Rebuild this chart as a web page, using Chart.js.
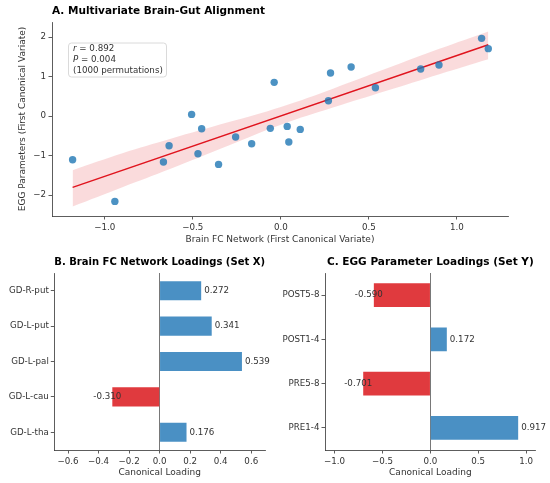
<!DOCTYPE html>
<html>
<head>
<meta charset="utf-8">
<script src="https://cdn.jsdelivr.net/npm/chart.js@4"></script>
<style>
  body { margin: 0; background: #fff; }
  .panel { position: absolute; }
</style>
</head>
<body>
<div class="panel" style="left:0;top:0"><canvas id="alignChart" width="550" height="250"></canvas></div>
<div class="panel" style="left:0;top:250px"><canvas id="brainChart" width="275" height="233"></canvas></div>
<div class="panel" style="left:275px;top:250px"><canvas id="eggChart" width="275" height="233"></canvas></div>
<script>
  // panel A: first canonical variates
  const brainFC  = [-1.183,-0.943,-0.667,-0.635,-0.507,-0.471,-0.450,-0.354,-0.257,-0.166,-0.060,-0.038,0.036,0.045,0.110,0.270,0.282,0.399,0.537,0.794,0.898,1.140,1.178];
  const eggParam = [-1.105,-2.160,-1.165,-0.751,0.042,-0.954,-0.321,-1.224,-0.532,-0.700,-0.312,0.852,-0.262,-0.658,-0.338,0.388,1.089,1.240,0.717,1.190,1.290,1.966,1.705];
  const fitX = [-1.183, 1.178];
  const fitY = [-1.806, 1.806];
  const bandX     = [-1.183,-0.9,-0.63,-0.3,0,0.3,0.6,0.9,1.178];
  const bandUpper = [-1.37,-0.94,-0.58,-0.16,0.23,0.70,1.20,1.70,2.14];
  const bandLower = [-2.29,-1.80,-1.34,-0.75,-0.22,0.22,0.64,1.06,1.44];

  // panel B / C: loadings
  const brainRegions  = ['GD-R-put','GD-L-put','GD-L-pal','GD-L-cau','GD-L-tha'];
  const brainLoadings = [0.272, 0.341, 0.539, -0.310, 0.176];
  const eggParams     = ['POST5-8','POST1-4','PRE5-8','PRE1-4'];
  const eggLoadings   = [-0.590, 0.172, -0.701, 0.917];

  const BLUE = '#4a90c4', RED = '#e03a3e', INK = '#333';
  Chart.defaults.font.family = "'DejaVu Sans', sans-serif";
  Chart.defaults.color = INK;

  const fmt = v => (Math.abs(v) < 1e-9 ? 0 : v).toFixed(1).replace('-', '\u2212');
  const toXY = (xs, ys) => xs.map((x, i) => ({ x, y: ys[i] }));

  function axis(extra) {
    return Object.assign({
      grid: { drawOnChartArea: false, tickLength: 3.5, tickColor: INK, lineWidth: 0.8 },
      border: { display: true, color: INK, width: 0.8 },
      ticks: { color: INK, font: { size: 8.7 }, padding: 2 },
    }, extra);
  }
  const fixW = w => s => { s.width = w; };
  const fixH = h => s => { s.height = h; };

  const statsBox = {
    id: 'statsBox',
    afterDraw(chart) {
      const { ctx, chartArea: ca } = chart;
      const x = ca.left + 16.5, y = ca.top + 21, w = 98, h = 34;
      ctx.save();
      ctx.beginPath();
      ctx.roundRect(x, y, w, h, 3);
      ctx.fillStyle = 'rgba(255,255,255,0.85)';
      ctx.fill();
      ctx.strokeStyle = '#d0d0d0';
      ctx.lineWidth = 0.8;
      ctx.stroke();
      ctx.fillStyle = INK;
      ctx.textBaseline = 'middle';
      const lines = [['r', ' = 0.892'], ['P', ' = 0.004'], ['', '(1000 permutations)']];
      lines.forEach(([it, rest], i) => {
        const ty = y + 6 + i * 11;
        let tx = x + 4.5;
        if (it) {
          ctx.font = "italic 8.7px 'DejaVu Sans'";
          ctx.fillText(it, tx, ty);
          tx += ctx.measureText(it).width;
        }
        ctx.font = "8.7px 'DejaVu Sans'";
        ctx.fillText(rest, tx, ty);
      });
      ctx.restore();
    }
  };

  new Chart(document.getElementById('alignChart'), {
    type: 'scatter',
    data: {
      datasets: [
        { data: toXY(brainFC, eggParam), backgroundColor: 'rgba(31,119,180,0.8)', borderWidth: 0, pointRadius: 3.7 },
        { type: 'line', data: toXY(fitX, fitY), borderColor: '#e0141e', borderWidth: 1.5, pointRadius: 0, fill: false },
        { type: 'line', data: toXY(bandX, bandUpper), borderWidth: 0, pointRadius: 0, fill: false, tension: 0.4 },
        { type: 'line', data: toXY(bandX, bandLower), borderWidth: 0, pointRadius: 0, fill: '-1', tension: 0.4, backgroundColor: 'rgba(228,40,50,0.17)' },
      ]
    },
    options: {
      responsive: false,
      animation: false,
      layout: { padding: { left: 0, right: 42, top: 0, bottom: 0 } },
      plugins: {
        legend: { display: false },
        tooltip: { enabled: false },
        title: {
          display: true, text: 'A. Multivariate Brain-Gut Alignment', align: 'start', fullSize: false,
          color: '#000', font: { size: 10.5, weight: 'bold' }, padding: { top: 4.7, bottom: 4.7 }
        }
      },
      scales: {
        x: axis({
          type: 'linear', min: -1.30, max: 1.29, afterFit: fixH(34),
          ticks: { color: INK, font: { size: 8.7 }, padding: 3, stepSize: 0.5, includeBounds: false, callback: fmt },
          title: { display: true, text: 'Brain FC Network (First Canonical Variate)', color: INK, font: { size: 9 }, padding: { top: 0, bottom: 4.6 } }
        }),
        y: axis({
          type: 'linear', min: -2.53, max: 2.38, afterFit: fixW(52),
          ticks: { color: INK, font: { size: 8.7 }, padding: 2.5, stepSize: 1, includeBounds: false, callback: v => String(Math.round(v)).replace('-', '\u2212') },
          title: { display: true, text: 'EGG Parameters (First Canonical Variate)', color: INK, font: { size: 9 }, padding: { top: 17.5, bottom: 0 } }
        })
      }
    },
    plugins: [statsBox]
  });

  const barLabels = {
    id: 'barLabels',
    afterDatasetsDraw(chart) {
      const { ctx } = chart;
      const values = chart.data.datasets[0].data;
      ctx.save();
      ctx.font = "8.7px 'DejaVu Sans'";
      ctx.fillStyle = INK;
      ctx.textAlign = 'left';
      ctx.textBaseline = 'middle';
      chart.getDatasetMeta(0).data.forEach((bar, i) => {
        const v = values[i];
        ctx.fillText(v.toFixed(3), v >= 0 ? bar.x + 3 : bar.x - 19, bar.y);
      });
      ctx.restore();
    }
  };

  function loadingChart(id, title, labels, values, lim, step, axisW, padRight) {
    new Chart(document.getElementById(id), {
      type: 'bar',
      data: {
        labels,
        datasets: [{
          data: values,
          backgroundColor: values.map(v => v < 0 ? RED : BLUE),
          barPercentage: 0.54,
          categoryPercentage: 1,
        }]
      },
      options: {
        indexAxis: 'y',
        responsive: false,
        animation: false,
        layout: { padding: { left: 0, right: padRight, top: 0, bottom: 0 } },
        plugins: {
          legend: { display: false },
          tooltip: { enabled: false },
          title: {
            display: true, text: title, fullSize: false, color: '#000',
            font: { size: 10.5, weight: 'bold' }, padding: { top: 5.7, bottom: 4.7 }
          }
        },
        scales: {
          x: axis({
            type: 'linear', min: -lim, max: lim, afterFit: fixH(33),
            grid: {
              drawOnChartArea: true, tickLength: 3.5, tickColor: INK, lineWidth: 0.8,
              color: c => c.tick && Math.abs(c.tick.value) < 1e-9 ? '#555' : 'rgba(0,0,0,0)'
            },
            ticks: { color: INK, font: { size: 8.7 }, padding: 3, stepSize: step, includeBounds: false, callback: fmt },
            title: { display: true, text: 'Canonical Loading', color: INK, font: { size: 9 }, padding: { top: 0, bottom: 4.9 } }
          }),
          y: axis({
            afterFit: fixW(axisW),
            grid: { drawOnChartArea: false, offset: false, tickLength: 3.5, tickColor: INK, lineWidth: 0.8 }
          })
        }
      },
      plugins: [barLabels]
    });
  }

  loadingChart('brainChart', 'B. Brain FC Network Loadings (Set X)', brainRegions, brainLoadings, 0.69, 0.2, 54.3, 10);
  loadingChart('eggChart', 'C. EGG Parameter Loadings (Set Y)', eggParams, eggLoadings, 1.1, 0.5, 50, 14.3);
</script>
</body>
</html>
